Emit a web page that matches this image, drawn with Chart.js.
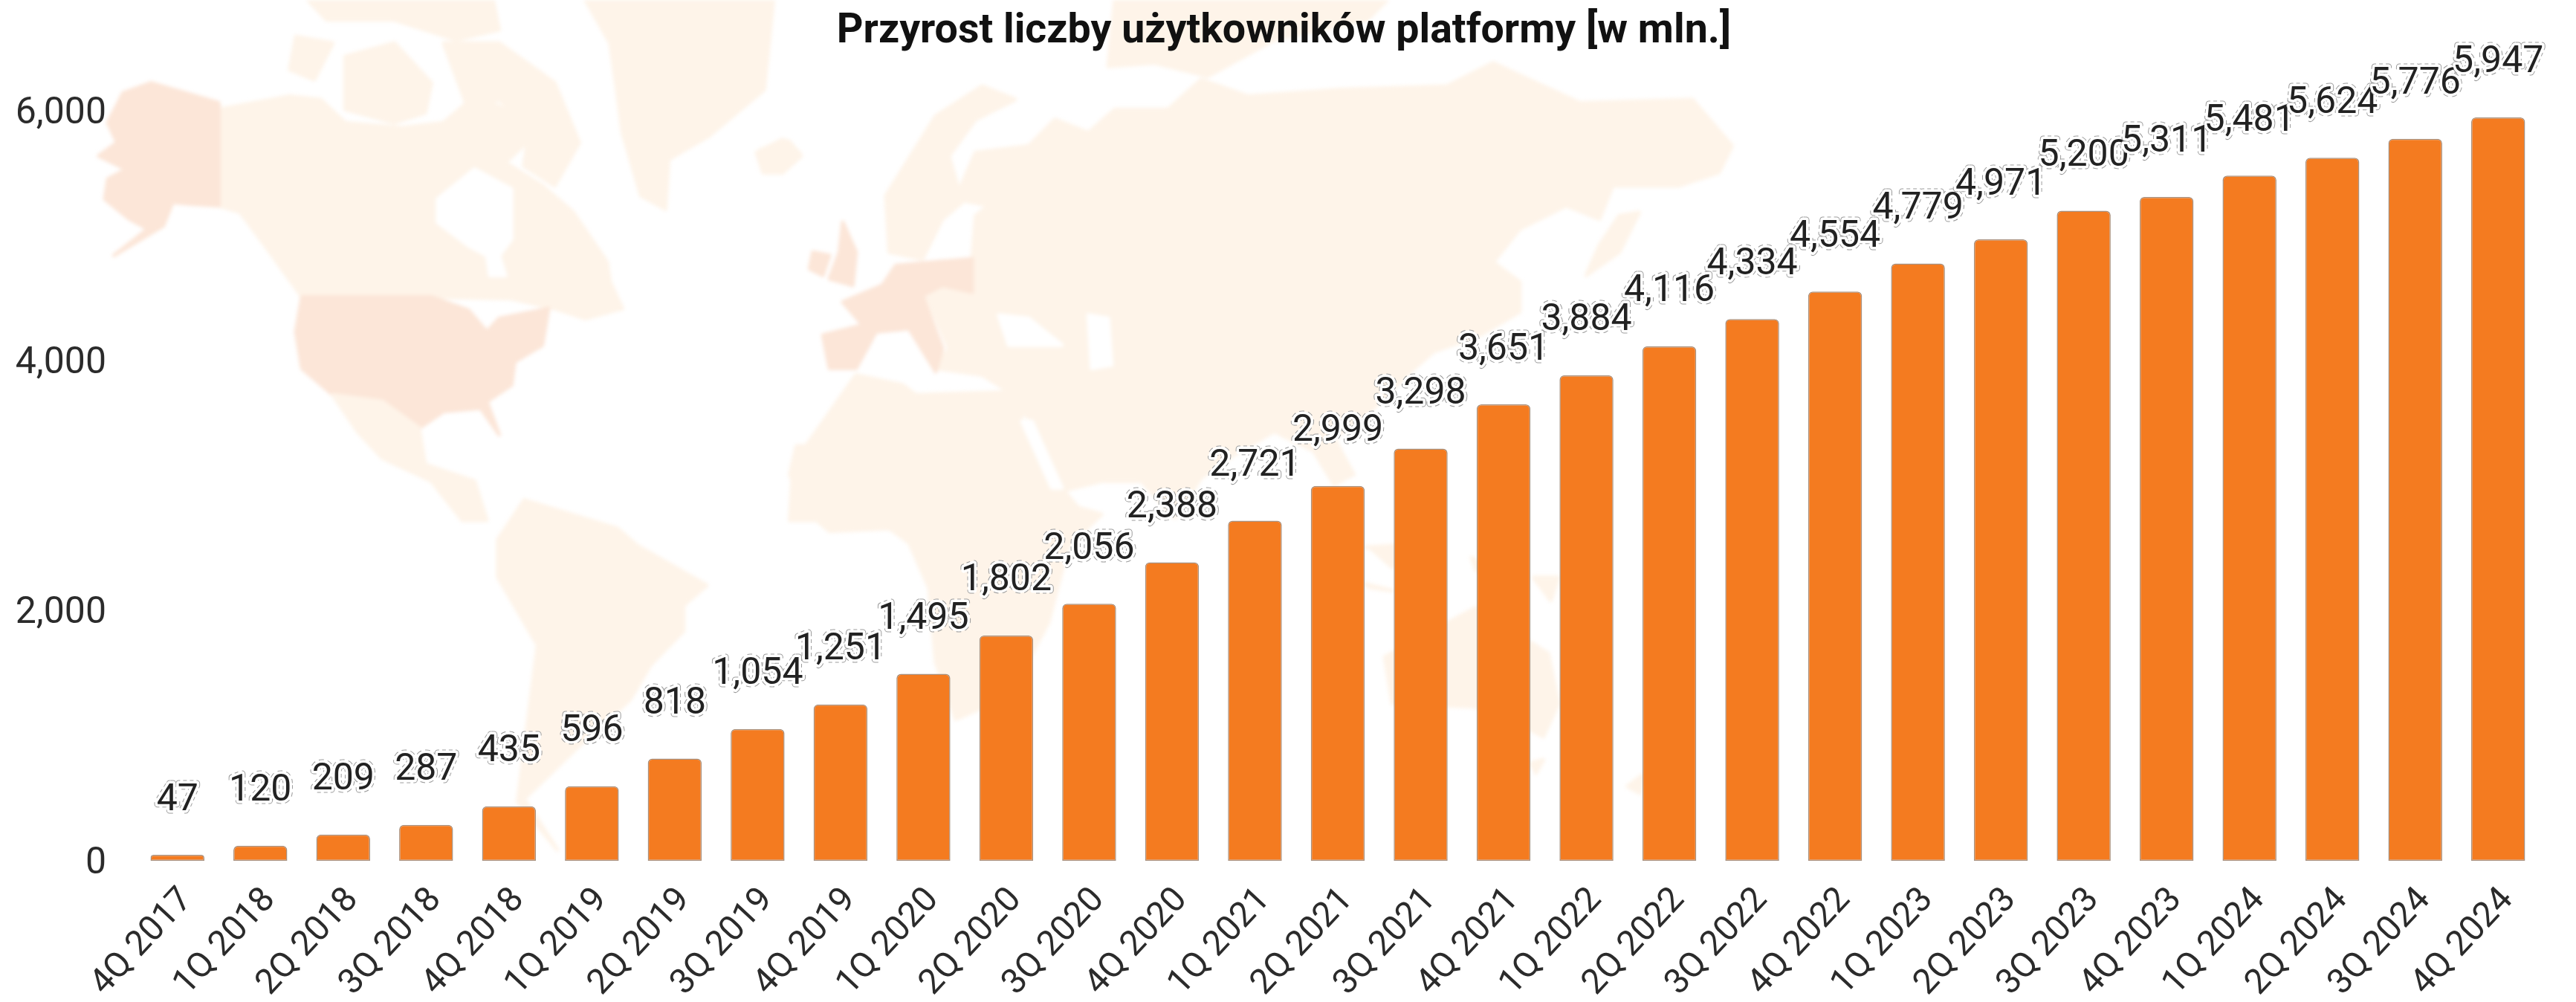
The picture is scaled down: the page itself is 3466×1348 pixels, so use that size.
<!DOCTYPE html>
<html lang="pl">
<head>
<meta charset="utf-8">
<title>Przyrost liczby użytkowników platformy</title>
<script src="https://cdn.jsdelivr.net/npm/chart.js@4/dist/chart.umd.js"></script>
<style>
html,body{margin:0;padding:0;background:#fff;width:3466px;height:1348px;overflow:hidden}
#map{position:absolute;left:0;top:0;width:3466px;height:1348px;filter:blur(2.5px)}
#wrap{position:absolute;left:0;top:0;width:3466px;height:1348px}
canvas{display:block}
polygon{stroke-linejoin:round;stroke-width:5;vector-effect:non-scaling-stroke}
.l{fill:#fef4e9;stroke:#fef4e9}.d{fill:#fce6d8;stroke:#fce6d8}.w{fill:#fff;stroke:#fff}
</style>
</head>
<body>
<svg id="map" viewBox="0 0 3466 1348" xmlns="http://www.w3.org/2000/svg" aria-hidden="true">
<g transform="scale(0.8292,0.4464)">
<polygon class="l" points="355,330 470,290 520,300 560,370 650,385 720,370 770,290 850,350 860,420 820,490 880,560 930,640 985,790 990,850 1010,930 950,960 900,930 830,900 700,895 490,895 430,740 390,640 355,620"/>
<polygon class="l" points="500,0 800,0 810,90 740,120 640,60 530,60"/>
<polygon class="l" points="480,110 540,130 510,240 470,210"/>
<polygon class="l" points="560,170 640,130 700,250 690,340 640,370 560,330"/>
<polygon class="l" points="720,130 810,130 900,250 940,430 900,560 850,500 860,380 810,300 760,330"/>
<polygon class="l" points="950,0 1255,0 1240,270 1150,410 1085,480 1080,630 1040,590 1010,400 1000,260 990,130"/>
<polygon class="l" points="1235,450 1280,425 1300,470 1270,520 1240,520"/>
<polygon class="w" points="710,600 770,510 830,570 830,720 810,770 820,830 795,830 790,770 760,740 710,670"/>
<polygon class="d" points="245,250 355,310 355,620 310,615 280,610 265,680 185,770 240,690 210,660 170,600 175,540 205,510 160,470 190,430 175,370 200,280"/>
<polygon class="d" points="490,895 700,895 760,935 790,1000 810,960 890,930 880,1040 835,1090 830,1160 790,1210 810,1310 780,1230 720,1240 680,1290 620,1210 540,1190 490,1110 480,1000"/>
<polygon class="l" points="540,1190 620,1210 680,1290 690,1400 770,1450 790,1568 750,1568 700,1450 620,1380 580,1300"/>
</g>
<g transform="translate(500,600) scale(0.893,0.3827)">
<polygon class="l" points="230,190 370,290 400,350 505,490 470,560 470,650 420,770 390,890 310,1060 230,1240 280,1420 220,1250 250,700 190,460 190,330"/>
<polygon class="l" points="630,100 640,0 1000,0 1040,200 1100,240 1050,350 1020,620 960,880 880,960 850,760 840,500 810,340 780,290 690,300 650,220"/>
</g>
<g transform="translate(1000,0) scale(0.893,0.4464)">
<polygon class="l" points="350,650 370,620 320,600 350,460 430,440 470,360 520,400 560,330 640,330 690,240 760,290 900,270 1060,260 1130,190 1260,310 1430,300 1490,440 1470,520 1410,560 1310,560 1290,660 1240,620 1170,690 1130,790 1170,850 1170,940 1110,1010 1040,1060 1000,1130 950,1230 890,1320 920,1430 890,1460 860,1360 800,1300 740,1370 690,1440 650,1560 600,1450 540,1450 480,1480 430,1260 400,1180 360,1130 290,1110 310,1050 275,890 345,780"/>
<polygon class="l" points="220,760 215,590 290,350 360,260 410,300 350,360 310,470 330,610 300,660 270,780"/>
<polygon class="l" points="560,0 970,0 940,60 800,120 700,230 620,190 550,200"/>
<polygon class="l" points="0,0 40,0 30,150 0,320"/>
<polygon class="l" points="20,460 60,420 85,460 60,520 30,520"/>
<polygon class="l" points="70,1568 75,1400 170,1130 240,1160 260,1190 420,1180 420,1270 480,1470 520,1568"/>
<polygon class="l" points="1290,740 1320,650 1350,640 1320,760 1270,830"/>
<polygon class="w" points="385,950 430,960 480,1040 400,1040"/>
<polygon class="w" points="520,950 550,960 555,1100 525,1110"/>
<polygon class="w" points="420,1270 435,1270 480,1470 465,1470"/>
<polygon class="d" points="230,800 345,780 345,880 300,860 270,890 300,1050 290,1120 250,990 200,1000 170,1110 130,1110 120,1010 180,980 150,910 210,860"/>
<polygon class="d" points="150,670 170,760 165,860 130,840 145,760"/>
<polygon class="d" points="105,760 130,770 120,830 100,810"/>
</g>
<g transform="translate(1800,500) scale(0.3333,0.4464)">
<polygon class="l" points="190,860 560,710 700,780 850,850 890,1000 830,1100 700,1050 550,1010 220,1000"/>
<polygon class="l" points="780,1180 830,1170 800,1210"/>
<polygon class="l" points="1170,1250 1230,1215 1220,1270"/>
<polygon class="l" points="110,530 300,520 220,590 130,530"/>
<polygon class="l" points="110,640 220,660 130,650"/>
<polygon class="l" points="540,560 620,600 560,600"/>
<polygon class="l" points="790,620 890,620 860,690"/>
</g>
</svg>
<div id="wrap"><canvas id="c" width="3466" height="1348"></canvas></div>
<script>
const categories = ["4Q 2017","1Q 2018","2Q 2018","3Q 2018","4Q 2018","1Q 2019","2Q 2019","3Q 2019","4Q 2019","1Q 2020","2Q 2020","3Q 2020","4Q 2020","1Q 2021","2Q 2021","3Q 2021","4Q 2021","1Q 2022","2Q 2022","3Q 2022","4Q 2022","1Q 2023","2Q 2023","3Q 2023","4Q 2023","1Q 2024","2Q 2024","3Q 2024","4Q 2024"];
const users = [47,120,209,287,435,596,818,1054,1251,1495,1802,2056,2388,2721,2999,3298,3651,3884,4116,4334,4554,4779,4971,5200,5311,5481,5624,5776,5947];
const yTickValues = [0,2000,4000,6000];
const titleText = "Przyrost liczby użytkowników platformy [w mln.]";

const fmt = v => v.toLocaleString("en-US");
const FONT = "Roboto";

const valueLabels = {
  id: "valueLabels",
  afterDatasetsDraw(chart) {
    const ctx = chart.ctx;
    const bars = chart.getDatasetMeta(0).data;
    ctx.save();
    ctx.font = "50px " + FONT;
    ctx.textAlign = "center";
    ctx.textBaseline = "middle";
    ctx.lineJoin = "round";
    bars.forEach((bar, i) => {
      const t = fmt(users[i]);
      const y = bar.y - 73;
      ctx.setLineDash([5, 4]);
      ctx.strokeStyle = "#9a9a9a";
      ctx.lineWidth = 9;
      ctx.strokeText(t, bar.x, y);
      ctx.setLineDash([]);
      ctx.strokeStyle = "#ffffff";
      ctx.lineWidth = 7;
      ctx.strokeText(t, bar.x, y);
      ctx.fillStyle = "#222222";
      ctx.fillText(t, bar.x, y);
    });
    ctx.restore();
  }
};
const titleNudge = {
  id: "titleNudge",
  afterLayout(chart) {
    chart.titleBlock.left += 19;
    chart.titleBlock.right += 19;
  }
};

Chart.defaults.font.family = FONT;
new Chart(document.getElementById("c"), {
  type: "bar",
  data: {
    labels: categories,
    datasets: [{
      data: users,
      backgroundColor: "#f47b20",
      borderColor: "#a8917f",
      borderWidth: 1.5,
      borderRadius: {topLeft: 6, topRight: 6, bottomLeft: 0, bottomRight: 0},
      borderSkipped: false,
      barPercentage: 0.65,
      categoryPercentage: 1
    }]
  },
  plugins: [valueLabels, titleNudge],
  options: {
    responsive: false,
    animation: false,
    layout: {padding: {left: 0, right: 49, top: 0, bottom: 0}},
    plugins: {
      legend: {display: false},
      tooltip: {enabled: false},
      title: {
        display: true,
        text: titleText,
        color: "#111111",
        font: {family: FONT, size: 55.5, weight: "bold", lineHeight: 1.2},
        padding: {top: 10, bottom: 0}
      }
    },
    scales: {
      x: {
        grid: {display: false, drawTicks: false},
        border: {display: false},
        afterFit(s) { s.height = 190; },
        ticks: {
          autoSkip: false, minRotation: 47, maxRotation: 47, padding: 26, labelOffset: 13,
          color: "#2b2b2b", font: {family: FONT, size: 47}
        }
      },
      y: {
        min: 0, max: 6431,
        grid: {display: false, drawTicks: false},
        border: {display: false},
        afterFit(s) { s.width = 183; },
        afterBuildTicks(s) { s.ticks = yTickValues.map(v => ({value: v})); },
        ticks: {
          padding: 40, color: "#2b2b2b", font: {family: FONT, size: 50, lineHeight: 0.16},
          callback: v => ["", fmt(v)]
        }
      }
    }
  }
});
</script>
</body>
</html>
